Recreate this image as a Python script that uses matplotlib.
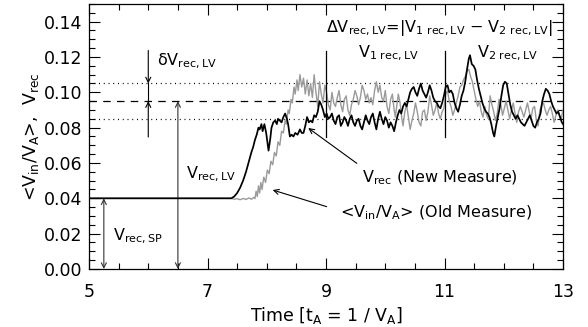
import matplotlib
matplotlib.use("Agg")
import matplotlib.pyplot as plt
from matplotlib.ticker import MultipleLocator, FormatStrFormatter

plt.rcParams['font.family'] = ['DejaVu Sans']
plt.rcParams['mathtext.default'] = 'regular'

# Reconnection rate, new measure (V_rec)
t_new = [5.0, 7.40, 7.45, 7.50, 7.55, 7.60, 7.65, 7.70, 7.74, 7.77, 7.80, 7.83, 7.86, 7.88, 7.91,
         7.93, 7.96, 7.99, 8.03, 8.06, 8.08, 8.11, 8.14, 8.17, 8.19, 8.22, 8.25, 8.28, 8.31, 8.34,
         8.36, 8.39, 8.42, 8.45, 8.48, 8.52, 8.56, 8.59, 8.62, 8.65, 8.68, 8.71, 8.74, 8.77, 8.80,
         8.83, 8.86, 8.89, 8.92, 8.95, 8.98, 9.01, 9.04, 9.07, 9.10, 9.13, 9.16, 9.19, 9.22, 9.25,
         9.28, 9.31, 9.34, 9.37, 9.40, 9.43, 9.46, 9.49, 9.52, 9.55, 9.58, 9.61, 9.64, 9.67, 9.70,
         9.73, 9.76, 9.79, 9.82, 9.85, 9.88, 9.91, 9.94, 9.97, 10.00, 10.03, 10.06, 10.09, 10.12,
         10.15, 10.18, 10.21, 10.24, 10.27, 10.30, 10.33, 10.36, 10.39, 10.42, 10.45, 10.48, 10.51,
         10.54, 10.57, 10.60, 10.63, 10.66, 10.69, 10.72, 10.75, 10.78, 10.81, 10.84, 10.87, 10.90,
         10.93, 10.96, 10.99, 11.02, 11.05, 11.08, 11.11, 11.14, 11.17, 11.20, 11.23, 11.26, 11.29,
         11.32, 11.35, 11.38, 11.41, 11.43, 11.46, 11.49, 11.52, 11.55, 11.58, 11.61, 11.64, 11.67,
         11.70, 11.73, 11.76, 11.79, 11.82, 11.84, 11.87, 11.90, 11.93, 11.96, 11.99, 12.02, 12.05,
         12.08, 12.11, 12.14, 12.17, 12.20, 12.23, 12.26, 12.29, 12.32, 12.35, 12.38, 12.41, 12.44,
         12.47, 12.50, 12.53, 12.56, 12.59, 12.62, 12.65, 12.68, 12.71, 12.74, 12.77, 12.80, 12.83,
         12.86, 12.89, 12.92, 12.95, 12.98, 13.0]
v_new = [0.040, 0.040, 0.041, 0.043, 0.046, 0.050, 0.055, 0.061, 0.066, 0.069, 0.073, 0.076, 0.080,
         0.079, 0.082, 0.078, 0.082, 0.077, 0.067, 0.074, 0.080, 0.083, 0.084, 0.082, 0.085, 0.084,
         0.083, 0.086, 0.088, 0.085, 0.082, 0.075, 0.076, 0.075, 0.077, 0.076, 0.079, 0.077, 0.077,
         0.081, 0.086, 0.083, 0.084, 0.083, 0.087, 0.086, 0.089, 0.095, 0.093, 0.090, 0.086, 0.088,
         0.085, 0.086, 0.088, 0.084, 0.082, 0.086, 0.087, 0.081, 0.083, 0.086, 0.084, 0.081, 0.085,
         0.087, 0.083, 0.081, 0.084, 0.085, 0.081, 0.079, 0.083, 0.087, 0.084, 0.082, 0.086, 0.088,
         0.083, 0.079, 0.085, 0.089, 0.085, 0.082, 0.086, 0.084, 0.080, 0.083, 0.081, 0.078, 0.083,
         0.087, 0.090, 0.088, 0.092, 0.094, 0.092, 0.096, 0.100, 0.102, 0.103, 0.100, 0.098, 0.102,
         0.105, 0.101, 0.099, 0.097, 0.100, 0.104, 0.101, 0.097, 0.095, 0.094, 0.092, 0.091, 0.094,
         0.098, 0.103, 0.104, 0.100, 0.101, 0.099, 0.094, 0.091, 0.089, 0.093, 0.098, 0.101, 0.106,
         0.113, 0.119, 0.121, 0.116, 0.115, 0.113, 0.107, 0.102, 0.098, 0.094, 0.091, 0.089, 0.088,
         0.086, 0.082, 0.077, 0.075, 0.081, 0.086, 0.091, 0.098, 0.104, 0.106, 0.105, 0.099, 0.093,
         0.089, 0.087, 0.085, 0.087, 0.085, 0.083, 0.082, 0.081, 0.083, 0.085, 0.087, 0.084, 0.081,
         0.080, 0.083, 0.085, 0.088, 0.095, 0.099, 0.102, 0.101, 0.099, 0.095, 0.092, 0.090, 0.088,
         0.089, 0.086, 0.083, 0.082]

# Averaged inflow speed, old measure (<V_in/V_A>)
t_old = [5.0, 7.40, 7.45, 7.50, 7.55, 7.60, 7.65, 7.70, 7.74, 7.78, 7.80, 7.82, 7.84, 7.86, 7.88,
         7.90, 7.92, 7.95, 7.98, 8.01, 8.04, 8.07, 8.10, 8.13, 8.16, 8.19, 8.22, 8.25, 8.28, 8.31,
         8.33, 8.36, 8.38, 8.41, 8.43, 8.46, 8.48, 8.51, 8.53, 8.56, 8.59, 8.62, 8.65, 8.68, 8.71,
         8.74, 8.77, 8.80, 8.83, 8.86, 8.89, 8.92, 8.95, 8.98, 9.01, 9.04, 9.07, 9.10, 9.13, 9.16,
         9.19, 9.22, 9.25, 9.28, 9.31, 9.34, 9.37, 9.40, 9.43, 9.46, 9.49, 9.52, 9.55, 9.58, 9.61,
         9.64, 9.67, 9.70, 9.73, 9.76, 9.79, 9.82, 9.85, 9.88, 9.91, 9.94, 9.97, 10.00, 10.03,
         10.06, 10.09, 10.12, 10.15, 10.17, 10.20, 10.22, 10.25, 10.28, 10.30, 10.33, 10.36, 10.39,
         10.42, 10.45, 10.48, 10.51, 10.54, 10.57, 10.60, 10.63, 10.66, 10.69, 10.72, 10.75, 10.78,
         10.81, 10.84, 10.87, 10.90, 10.93, 10.96, 10.99, 11.02, 11.05, 11.08, 11.11, 11.14, 11.17,
         11.20, 11.23, 11.26, 11.29, 11.32, 11.35, 11.38, 11.41, 11.44, 11.47, 11.50, 11.53, 11.56,
         11.59, 11.62, 11.65, 11.68, 11.71, 11.74, 11.77, 11.80, 11.83, 11.86, 11.89, 11.92, 11.95,
         11.98, 12.01, 12.04, 12.07, 12.10, 12.13, 12.16, 12.19, 12.22, 12.25, 12.28, 12.31, 12.34,
         12.37, 12.40, 12.43, 12.46, 12.49, 12.52, 12.55, 12.58, 12.61, 12.64, 12.67, 12.70, 12.73,
         12.76, 12.79, 12.82, 12.85, 12.88, 12.91, 12.94, 12.97, 13.0]
v_old = [0.040, 0.040, 0.0395, 0.0398, 0.0392, 0.0399, 0.0394, 0.0402, 0.0395, 0.0405, 0.0398,
         0.044, 0.041, 0.047, 0.043, 0.049, 0.045, 0.052, 0.049, 0.056, 0.054, 0.061, 0.059, 0.066,
         0.064, 0.072, 0.070, 0.078, 0.077, 0.084, 0.082, 0.090, 0.088, 0.096, 0.094, 0.103, 0.099,
         0.107, 0.101, 0.110, 0.103, 0.108, 0.099, 0.107, 0.098, 0.105, 0.097, 0.110, 0.100, 0.092,
         0.106, 0.099, 0.094, 0.104, 0.100, 0.093, 0.090, 0.100, 0.094, 0.092, 0.097, 0.101, 0.093,
         0.089, 0.096, 0.098, 0.090, 0.087, 0.093, 0.096, 0.101, 0.098, 0.093, 0.097, 0.104, 0.101,
         0.096, 0.099, 0.094, 0.097, 0.093, 0.101, 0.106, 0.100, 0.104, 0.097, 0.095, 0.101, 0.092,
         0.088, 0.096, 0.099, 0.090, 0.086, 0.094, 0.099, 0.094, 0.085, 0.081, 0.089, 0.093, 0.086,
         0.079, 0.084, 0.088, 0.094, 0.089, 0.083, 0.081, 0.089, 0.090, 0.084, 0.089, 0.098, 0.093,
         0.087, 0.090, 0.094, 0.088, 0.085, 0.089, 0.091, 0.099, 0.101, 0.095, 0.092, 0.087, 0.090,
         0.094, 0.098, 0.103, 0.104, 0.107, 0.109, 0.112, 0.113, 0.109, 0.106, 0.101, 0.096, 0.092,
         0.095, 0.089, 0.086, 0.092, 0.087, 0.085, 0.098, 0.093, 0.089, 0.084, 0.088, 0.096, 0.093,
         0.087, 0.091, 0.095, 0.090, 0.085, 0.090, 0.094, 0.088, 0.083, 0.089, 0.092, 0.089, 0.086,
         0.090, 0.094, 0.089, 0.085, 0.091, 0.092, 0.084, 0.081, 0.090, 0.093, 0.094, 0.090, 0.087,
         0.090, 0.092, 0.088, 0.083, 0.087, 0.090, 0.087, 0.085, 0.090]

# Reference levels
v_sp = 0.040        # Sweet-Parker rate
v_lv = 0.095        # Lazarian-Vishniac mean rate
dv_lv = 0.010       # spread of the LV rate
x_ticks = [5, 7, 9, 11, 13]

fig = plt.figure(figsize=(5.88, 3.27), dpi=100)
ax = fig.add_axes([0.1514, 0.1774, 0.8061, 0.8104])

ax.plot(t_old, v_old, color='#9a9a9a', lw=1.0, zorder=3)
ax.plot(t_new, v_new, color='black', lw=1.25, zorder=4)

ax.axhline(v_lv, color='black', lw=0.9, dashes=(6, 5), zorder=2)
ax.axhline(v_lv + dv_lv, color='black', lw=0.9, dashes=(0.8, 3.0), zorder=2)
ax.axhline(v_lv - dv_lv, color='black', lw=0.9, dashes=(0.8, 3.0), zorder=2)

# Markers separating the two LV plateaus
for xv in (9, 11):
    ax.plot([xv, xv], [0.0747, 0.1235], color='black', lw=0.9, zorder=5)

arrow = dict(arrowstyle='->', color='black', lw=0.8, shrinkA=0, shrinkB=0,
             mutation_scale=9)
darrow = dict(arrowstyle='<->', color='#333333', lw=0.8, shrinkA=0, shrinkB=0,
              mutation_scale=9)

fs = 11.5

# delta V marker
ax.annotate('', xy=(6.0, v_lv + dv_lv), xytext=(6.0, 0.1237), arrowprops=arrow)
ax.annotate('', xy=(6.0, v_lv), xytext=(6.0, 0.0747), arrowprops=arrow)
ax.plot([6.0, 6.0], [v_lv, v_lv + dv_lv], color='black', lw=0.8)
ax.text(6.15, 0.1155, r'$\delta$V$_{rec,LV}$', fontsize=fs, va='baseline')

# V_rec,LV and V_rec,SP markers
ax.annotate('', xy=(6.5, v_lv), xytext=(6.5, 0.0), arrowprops=darrow)
ax.text(6.64, 0.0515, 'V$_{rec,LV}$', fontsize=fs, va='baseline')
ax.annotate('', xy=(5.25, v_sp), xytext=(5.25, 0.0), arrowprops=darrow)
ax.text(5.405, 0.0164, 'V$_{rec,SP}$', fontsize=fs, va='baseline')

ax.text(9.0, 0.134, r'$\Delta$V$_{rec,LV}$=|V$_{1\ rec,LV}$ $-$ V$_{2\ rec,LV}$|',
        fontsize=fs, va='baseline')
ax.text(9.54, 0.120, 'V$_{1\\ rec,LV}$', fontsize=fs, va='baseline')
ax.text(11.55, 0.120, 'V$_{2\\ rec,LV}$', fontsize=fs, va='baseline')

ax.annotate('', xy=(8.70, 0.0798), xytext=(9.52, 0.0598), arrowprops=arrow)
ax.text(9.60, 0.0492, 'V$_{rec}$ (New Measure)', fontsize=fs, va='baseline')
ax.annotate('', xy=(8.10, 0.0447), xytext=(9.01, 0.0353), arrowprops=arrow)
ax.text(9.24, 0.0294, '<V$_{in}$/V$_A$> (Old Measure)', fontsize=fs, va='baseline')

ax.set_xlim(5, 13)
ax.set_ylim(0, 0.15)
ax.set_xticks(x_ticks)
ax.xaxis.set_minor_locator(MultipleLocator(0.5))
ax.yaxis.set_minor_locator(MultipleLocator(0.005))
ax.set_yticks([0.0, 0.02, 0.04, 0.06, 0.08, 0.10, 0.12, 0.14])
ax.yaxis.set_major_formatter(FormatStrFormatter('%.2f'))
ax.tick_params(which='both', direction='in', top=True, right=True, labelsize=12.5,
               width=0.8)
ax.tick_params(which='major', length=8)
ax.tick_params(axis='y', which='major', pad=5)
ax.tick_params(axis='x', which='major', pad=10)
ax.tick_params(which='minor', length=4)
for s in ax.spines.values():
    s.set_linewidth(0.9)

ax.set_xlabel('Time [t$_A$ = 1 / V$_A$]', fontsize=12.5, labelpad=3)
ax.set_ylabel('<V$_{in}$/V$_A$>,  V$_{rec}$', fontsize=12.5, labelpad=2)

fig.savefig('out.png', dpi=100)
